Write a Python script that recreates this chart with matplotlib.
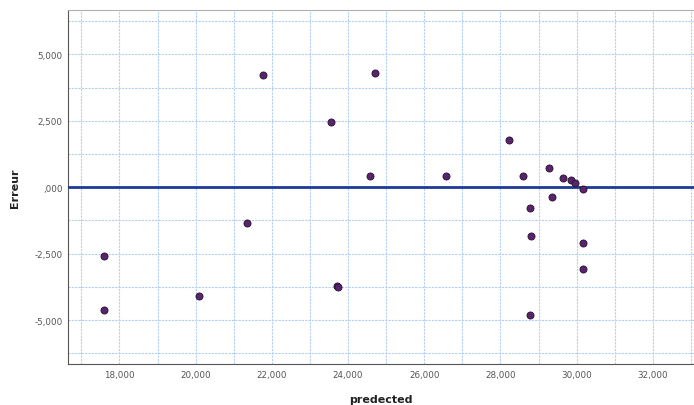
import numpy as np
import matplotlib.pyplot as plt
from matplotlib.ticker import FuncFormatter, MultipleLocator

# Valeurs (prédit, erreur)
predected = [17590, 17590, 20090, 21350, 21770, 23550, 23700, 23740,
             24720, 24580, 26560, 28230, 28590, 29280, 29650, 29860,
             29950, 30170, 29360, 28780, 28810, 30170, 30170, 28780]
erreur = [-2590, -4600, -4100, -1360, 4240, 2450, -3710, -3760,
          4290, 430, 430, 1770, 420, 710, 360, 260,
          170, -70, -370, -780, -1820, -2080, -3080, -4820]

x_ticks = [18000, 20000, 22000, 24000, 26000, 28000, 30000, 32000]
y_ticks = [-5000, -2500, 0, 2500, 5000]


def spss_fmt(v, pos):
    # format SPSS : 0 -> ",000"
    if v == 0:
        return ",000"
    return "{:,.0f}".format(v)


fig = plt.figure(figsize=(6.94, 4.06), dpi=100)
ax = fig.add_axes([0.098, 0.101, 0.902, 0.872])

ax.set_xlim(16650, 33080)
ax.set_ylim(-6650, 6670)

ax.set_xticks(x_ticks)
ax.set_yticks(y_ticks)
ax.xaxis.set_minor_locator(MultipleLocator(1000))
ax.yaxis.set_minor_locator(MultipleLocator(1250))
ax.xaxis.set_major_formatter(FuncFormatter(spss_fmt))
ax.yaxis.set_major_formatter(FuncFormatter(spss_fmt))

# Grille bleue pointillée
ax.grid(which='both', color='#b3cff3', linestyle=(0, (2, 1)), linewidth=0.8)
ax.set_axisbelow(True)

# Ligne de référence à zéro
ax.axhline(0, color='#1c3a96', linewidth=2, zorder=3)

ax.scatter(predected, erreur, s=26, color='#56256b', edgecolors='#2a1030',
           linewidths=0.6, zorder=4)

ax.tick_params(which='both', length=0, labelsize=6.3, labelcolor='#555555', pad=4)
ax.spines['top'].set_color('#b0b0b0')
ax.spines['right'].set_visible(False)
for side in ['left', 'bottom']:
    ax.spines[side].set_color('#555555')

ax.set_ylabel("Erreur", fontsize=8, fontweight='bold', color='#222222', labelpad=10)
ax.set_xlabel("predected", fontsize=8, fontweight='bold', color='#222222', labelpad=11)

fig.savefig("out.png", dpi=100)
